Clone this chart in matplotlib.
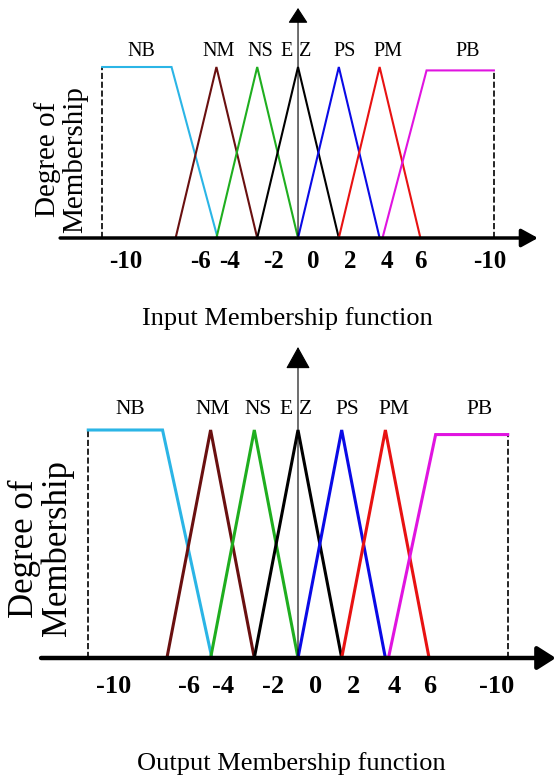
import matplotlib
matplotlib.use('Agg')
import matplotlib.pyplot as plt

plt.rcParams['font.family'] = ['Liberation Serif', 'DejaVu Serif']

# membership functions (same shape for input and output)
names = ['NB', 'NM', 'NS', 'Z', 'PS', 'PM', 'PB']
colors = ['#2bb5e6', '#6a1010', '#1fae1f', '#000000', '#0a0ae6', '#e81212', '#e014e0']
mf_x = [
    [-4.8, -3.1, -1.97],
    [-3.0, -2.0, -1.0],
    [-2.0, -1.0, 0.0],
    [-1.0, 0.0, 1.0],
    [0.0, 1.0, 2.0],
    [1.0, 2.0, 3.0],
    [2.07, 3.15, 4.8],
]
mf_y = [
    [1.0, 1.0, 0.0],
    [0.0, 1.0, 0.0],
    [0.0, 1.0, 0.0],
    [0.0, 1.0, 0.0],
    [0.0, 1.0, 0.0],
    [0.0, 1.0, 0.0],
    [0.0, 0.98, 0.98],
]

# set labels above the peaks
label_text = ['NB', 'NM', 'NS', 'E', 'Z', 'PS', 'PM', 'PB']
label_x = [-3.83, -1.95, -0.92, -0.28, 0.18, 1.13, 2.2, 4.16]

tick_labels = ['-10', '-6', '-4', '-2', '0', '2', '4', '6', '-10']
ticks_in = [-4.22, -2.40, -1.69, -0.59, 0.37, 1.27, 2.18, 3.01, 4.71]
ticks_out = [-4.21, -2.49, -1.72, -0.57, 0.41, 1.26, 2.20, 3.02, 4.55]


def draw_mf(ax, ticks, lw, tick_fs, name_fs, ylab, axis_end, varrow, harrow, tick_pad):
    for x, y, c in zip(mf_x, mf_y, colors):
        ax.plot(x, y, color=c, lw=lw, solid_joinstyle='miter', zorder=3)
    # dashed borders of the universe
    ax.plot([mf_x[0][0], mf_x[0][0]], [0, mf_y[0][0]], 'k--', lw=1.2, zorder=2)
    ax.plot([mf_x[-1][-1], mf_x[-1][-1]], [0, mf_y[-1][-1]], 'k--', lw=1.2, zorder=2)

    # horizontal axis with arrow
    ax.annotate('', xy=(axis_end[1], 0), xytext=(axis_end[0], 0),
                arrowprops=dict(arrowstyle='-|>,head_length=%.2f,head_width=%.2f' % harrow,
                                lw=lw + 1.0, color='black', shrinkA=0, shrinkB=0,
                                mutation_scale=10), zorder=5, annotation_clip=False)
    # vertical axis with arrow
    ax.annotate('', xy=(0, varrow[0]), xytext=(0, 0),
                arrowprops=dict(arrowstyle='-|>,head_length=%.2f,head_width=%.2f' % varrow[1:],
                                lw=0.8, color='black', shrinkA=0, shrinkB=0,
                                mutation_scale=10), zorder=6, annotation_clip=False)

    for t, x in zip(label_text, label_x):
        ax.text(x, 1.09, t, fontsize=name_fs, ha='center', va='center')

    # ylab = (x, y, fontsize, linespacing)
    ax.text(ylab[0], ylab[1], 'Degree of\nMembership', rotation=90, fontsize=ylab[2],
            ha='center', va='center', linespacing=ylab[3])

    ax.set_xticks(ticks)
    ax.set_xticklabels(tick_labels, fontsize=tick_fs, fontweight='bold')
    ax.tick_params(axis='x', length=0, pad=tick_pad)
    ax.set_yticks([])
    for s in ax.spines.values():
        s.set_visible(False)


fig = plt.figure(figsize=(5.57, 7.76), dpi=100)

ax1 = fig.add_axes([0.02226, 0.68448, 0.96697, 0.31732])
ax1.set_xlim(-7.0, 6.2)
ax1.set_ylim(-0.04, 1.40)
draw_mf(ax1, ticks_in, 1.5, 18, 14.5, (-5.81, 0.46, 21, 1.05), (-5.83, 5.88),
        (1.345, 0.95, 0.62), (1.0, 0.55), 4)

ax2 = fig.add_axes([0.01724, 0.14031, 0.98061, 0.42309])
ax2.set_xlim(-6.6, 5.9)
ax2.set_ylim(-0.04, 1.40)
draw_mf(ax2, ticks_out, 2.2, 19, 15.5, (-5.88, 0.48, 25, 0.95), (-5.88, 5.90),
        (1.364, 1.4, 0.78), (1.1, 0.7), 6)

fig.text(287 / 557, 1 - 325 / 776, 'Input Membership function', fontsize=19,
         ha='center', va='baseline')
fig.text(291 / 557, 1 - 770 / 776, 'Output Membership function', fontsize=19,
         ha='center', va='baseline')

fig.savefig('out.png', dpi=100)
